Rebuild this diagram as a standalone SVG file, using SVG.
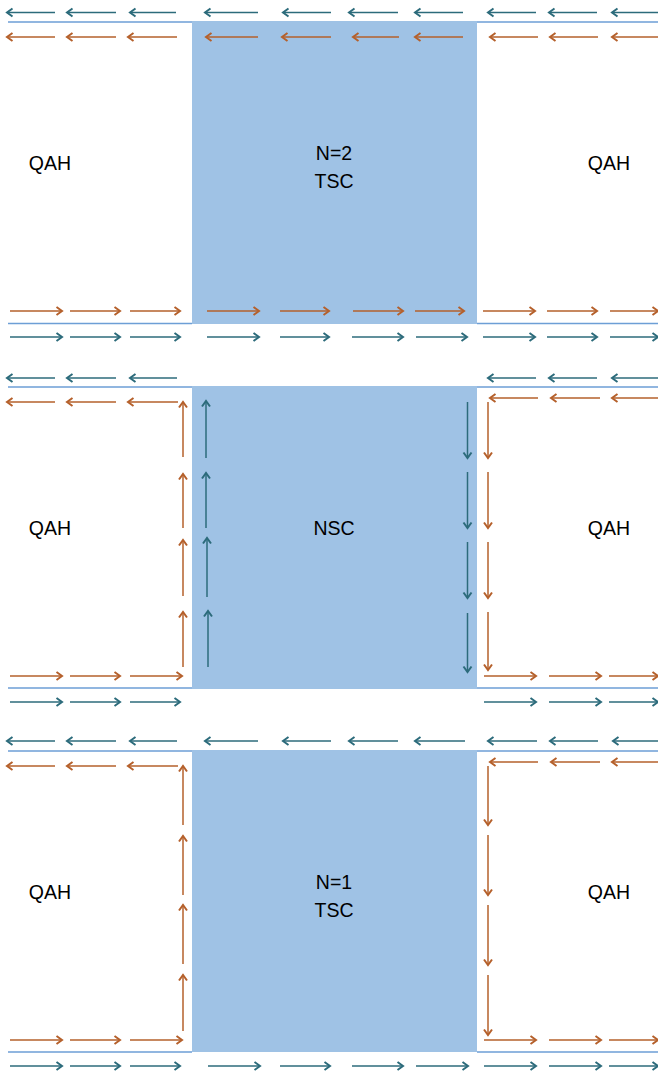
<svg xmlns="http://www.w3.org/2000/svg" width="658" height="1071" viewBox="0 0 658 1071">
<style>
.sc{fill:#9fc2e5;stroke:none}
.edge{stroke:#6d9fd6;stroke-width:1.6;fill:none}
.t{stroke:#2c6b7b;stroke-width:1.5;fill:none;marker-end:url(#mt)}
.o{stroke:#b5602b;stroke-width:1.5;fill:none;marker-end:url(#mo)}
.lbl{font-family:"Liberation Sans",Arial,sans-serif;font-size:19.5px;fill:#000;text-anchor:middle}
</style>
<defs>
<marker id="mt" markerUnits="userSpaceOnUse" markerWidth="12" markerHeight="12" viewBox="-8 -6 10 12" refX="0" refY="0" orient="auto">
<path d="M-5.5,-4 L0,0 L-5.5,4" stroke="#2c6b7b" stroke-width="2" fill="none"/>
</marker>
<marker id="mo" markerUnits="userSpaceOnUse" markerWidth="12" markerHeight="12" viewBox="-8 -6 10 12" refX="0" refY="0" orient="auto">
<path d="M-5.5,-4 L0,0 L-5.5,4" stroke="#b5602b" stroke-width="2" fill="none"/>
</marker>
</defs>

<g id="panel1">
<g id="p1-qah-left"><text class="lbl" x="50" y="170">QAH</text></g>
<g id="p1-tsc"><rect class="sc" x="192" y="21" width="285" height="303"/><text class="lbl" x="334" y="160">N=2</text><text class="lbl" x="334" y="188">TSC</text></g>
<g id="p1-qah-right"><text class="lbl" x="609" y="170">QAH</text></g>
</g>
<g id="panel2">
<g id="p2-qah-left"><text class="lbl" x="50" y="535">QAH</text></g>
<g id="p2-nsc"><rect class="sc" x="192" y="386" width="285" height="303"/><text class="lbl" x="334" y="535">NSC</text></g>
<g id="p2-qah-right"><text class="lbl" x="609" y="535">QAH</text></g>
</g>
<g id="panel3">
<g id="p3-qah-left"><text class="lbl" x="50" y="899">QAH</text></g>
<g id="p3-tsc"><rect class="sc" x="192" y="750" width="285" height="302"/><text class="lbl" x="334" y="889">N=1</text><text class="lbl" x="334" y="917">TSC</text></g>
<g id="p3-qah-right"><text class="lbl" x="609" y="899">QAH</text></g>
</g>

<g id="connectors">
<path class="edge" d="M8,22 H192 M477,22 H658 M8,323.5 H192 M477,323.5 H658"/>
<path class="edge" d="M8,387 H192 M477,387 H658 M8,688 H192 M477,688 H658"/>
<path class="edge" d="M8,751 H192 M477,751 H658 M8,1052 H192 M477,1052 H658"/>

<path class="t" d="M55,12.5 H7"/><path class="t" d="M116,12.5 H67"/><path class="t" d="M176,12.5 H130"/><path class="t" d="M258,12.5 H205"/><path class="t" d="M331,12.5 H283"/><path class="t" d="M398,12.5 H349"/><path class="t" d="M463,12.5 H415"/><path class="t" d="M536,12.5 H488"/><path class="t" d="M597,12.5 H549"/><path class="t" d="M658,12.5 H612"/>
<path class="o" d="M55,37 H7"/><path class="o" d="M116,37 H67"/><path class="o" d="M177,37 H128"/><path class="o" d="M258,37 H206"/><path class="o" d="M331,37 H282"/><path class="o" d="M399,37 H353"/><path class="o" d="M463,37 H415"/><path class="o" d="M538,37 H490"/><path class="o" d="M598,37 H550"/><path class="o" d="M658,37 H612"/>
<path class="o" d="M10,311 H62"/><path class="o" d="M70,311 H120"/><path class="o" d="M130,311 H180"/><path class="o" d="M207,311 H259"/><path class="o" d="M280,311 H329"/><path class="o" d="M353,311 H403"/><path class="o" d="M415,311 H464"/><path class="o" d="M483,311 H535"/><path class="o" d="M547,311 H597"/><path class="o" d="M610,311 H658"/>
<path class="t" d="M10,337 H62"/><path class="t" d="M70,337 H120"/><path class="t" d="M130,337 H180"/><path class="t" d="M207,337 H259"/><path class="t" d="M280,337 H329"/><path class="t" d="M352,337 H403"/><path class="t" d="M416,337 H467"/><path class="t" d="M483,337 H535"/><path class="t" d="M547,337 H597"/><path class="t" d="M610,337 H658"/>

<path class="t" d="M55,378 H7"/><path class="t" d="M116,378 H67"/><path class="t" d="M177,378 H130"/><path class="t" d="M536,378 H488"/><path class="t" d="M597,378 H549"/><path class="t" d="M658,378 H612"/>
<path class="o" d="M55,402 H7"/><path class="o" d="M116,402 H67"/><path class="o" d="M178,402 H128"/><path class="o" d="M538,398 H490"/><path class="o" d="M600,398 H551"/><path class="o" d="M658,398 H612"/>
<path class="o" d="M183,457 V402"/><path class="o" d="M183,528 V474"/><path class="o" d="M183,596 V540"/><path class="o" d="M183,667 V612"/>
<path class="t" d="M206,458 V401"/><path class="t" d="M206,528 V473"/><path class="t" d="M207,597 V538"/><path class="t" d="M208,667 V611"/>
<path class="t" d="M467.5,402 V458"/><path class="t" d="M467.5,472 V528"/><path class="t" d="M467.5,542 V598"/><path class="t" d="M467.5,613 V672"/>
<path class="o" d="M488,402 V458"/><path class="o" d="M488,472 V528"/><path class="o" d="M488,542 V598"/><path class="o" d="M488,612 V670"/>
<path class="o" d="M10,676 H62"/><path class="o" d="M70,676 H120"/><path class="o" d="M130,676 H182"/><path class="o" d="M484,676 H536"/><path class="o" d="M549,676 H601"/><path class="o" d="M609,676 H658"/>
<path class="t" d="M10,702 H62"/><path class="t" d="M70,702 H120"/><path class="t" d="M130,702 H180"/><path class="t" d="M484,702 H536"/><path class="t" d="M549,702 H601"/><path class="t" d="M609,702 H658"/>

<path class="t" d="M55,741 H7"/><path class="t" d="M116,741 H67"/><path class="t" d="M177,741 H130"/><path class="t" d="M258,741 H205"/><path class="t" d="M331,741 H283"/><path class="t" d="M398,741 H349"/><path class="t" d="M465,741 H415"/><path class="t" d="M537,741 H488"/><path class="t" d="M598,741 H550"/><path class="t" d="M658,741 H613"/>
<path class="o" d="M55,766 H7"/><path class="o" d="M116,766 H67"/><path class="o" d="M178,766 H128"/><path class="o" d="M538,762 H490"/><path class="o" d="M600,762 H551"/><path class="o" d="M658,762 H612"/>
<path class="o" d="M183,825 V766"/><path class="o" d="M183,895 V836"/><path class="o" d="M183,964 V905"/><path class="o" d="M183,1031 V975"/>
<path class="o" d="M488,766 V825"/><path class="o" d="M488,835 V895"/><path class="o" d="M488,905 V965"/><path class="o" d="M488,975 V1035"/>
<path class="o" d="M10,1040 H62"/><path class="o" d="M70,1040 H120"/><path class="o" d="M130,1040 H182"/><path class="o" d="M484,1040 H536"/><path class="o" d="M549,1040 H601"/><path class="o" d="M609,1040 H658"/>
<path class="t" d="M10,1066 H62"/><path class="t" d="M70,1066 H120"/><path class="t" d="M130,1066 H180"/><path class="t" d="M208,1066 H260"/><path class="t" d="M280,1066 H330"/><path class="t" d="M352,1066 H403"/><path class="t" d="M416,1066 H468"/><path class="t" d="M484,1066 H536"/><path class="t" d="M549,1066 H601"/><path class="t" d="M609,1066 H658"/>
</g>
</svg>
